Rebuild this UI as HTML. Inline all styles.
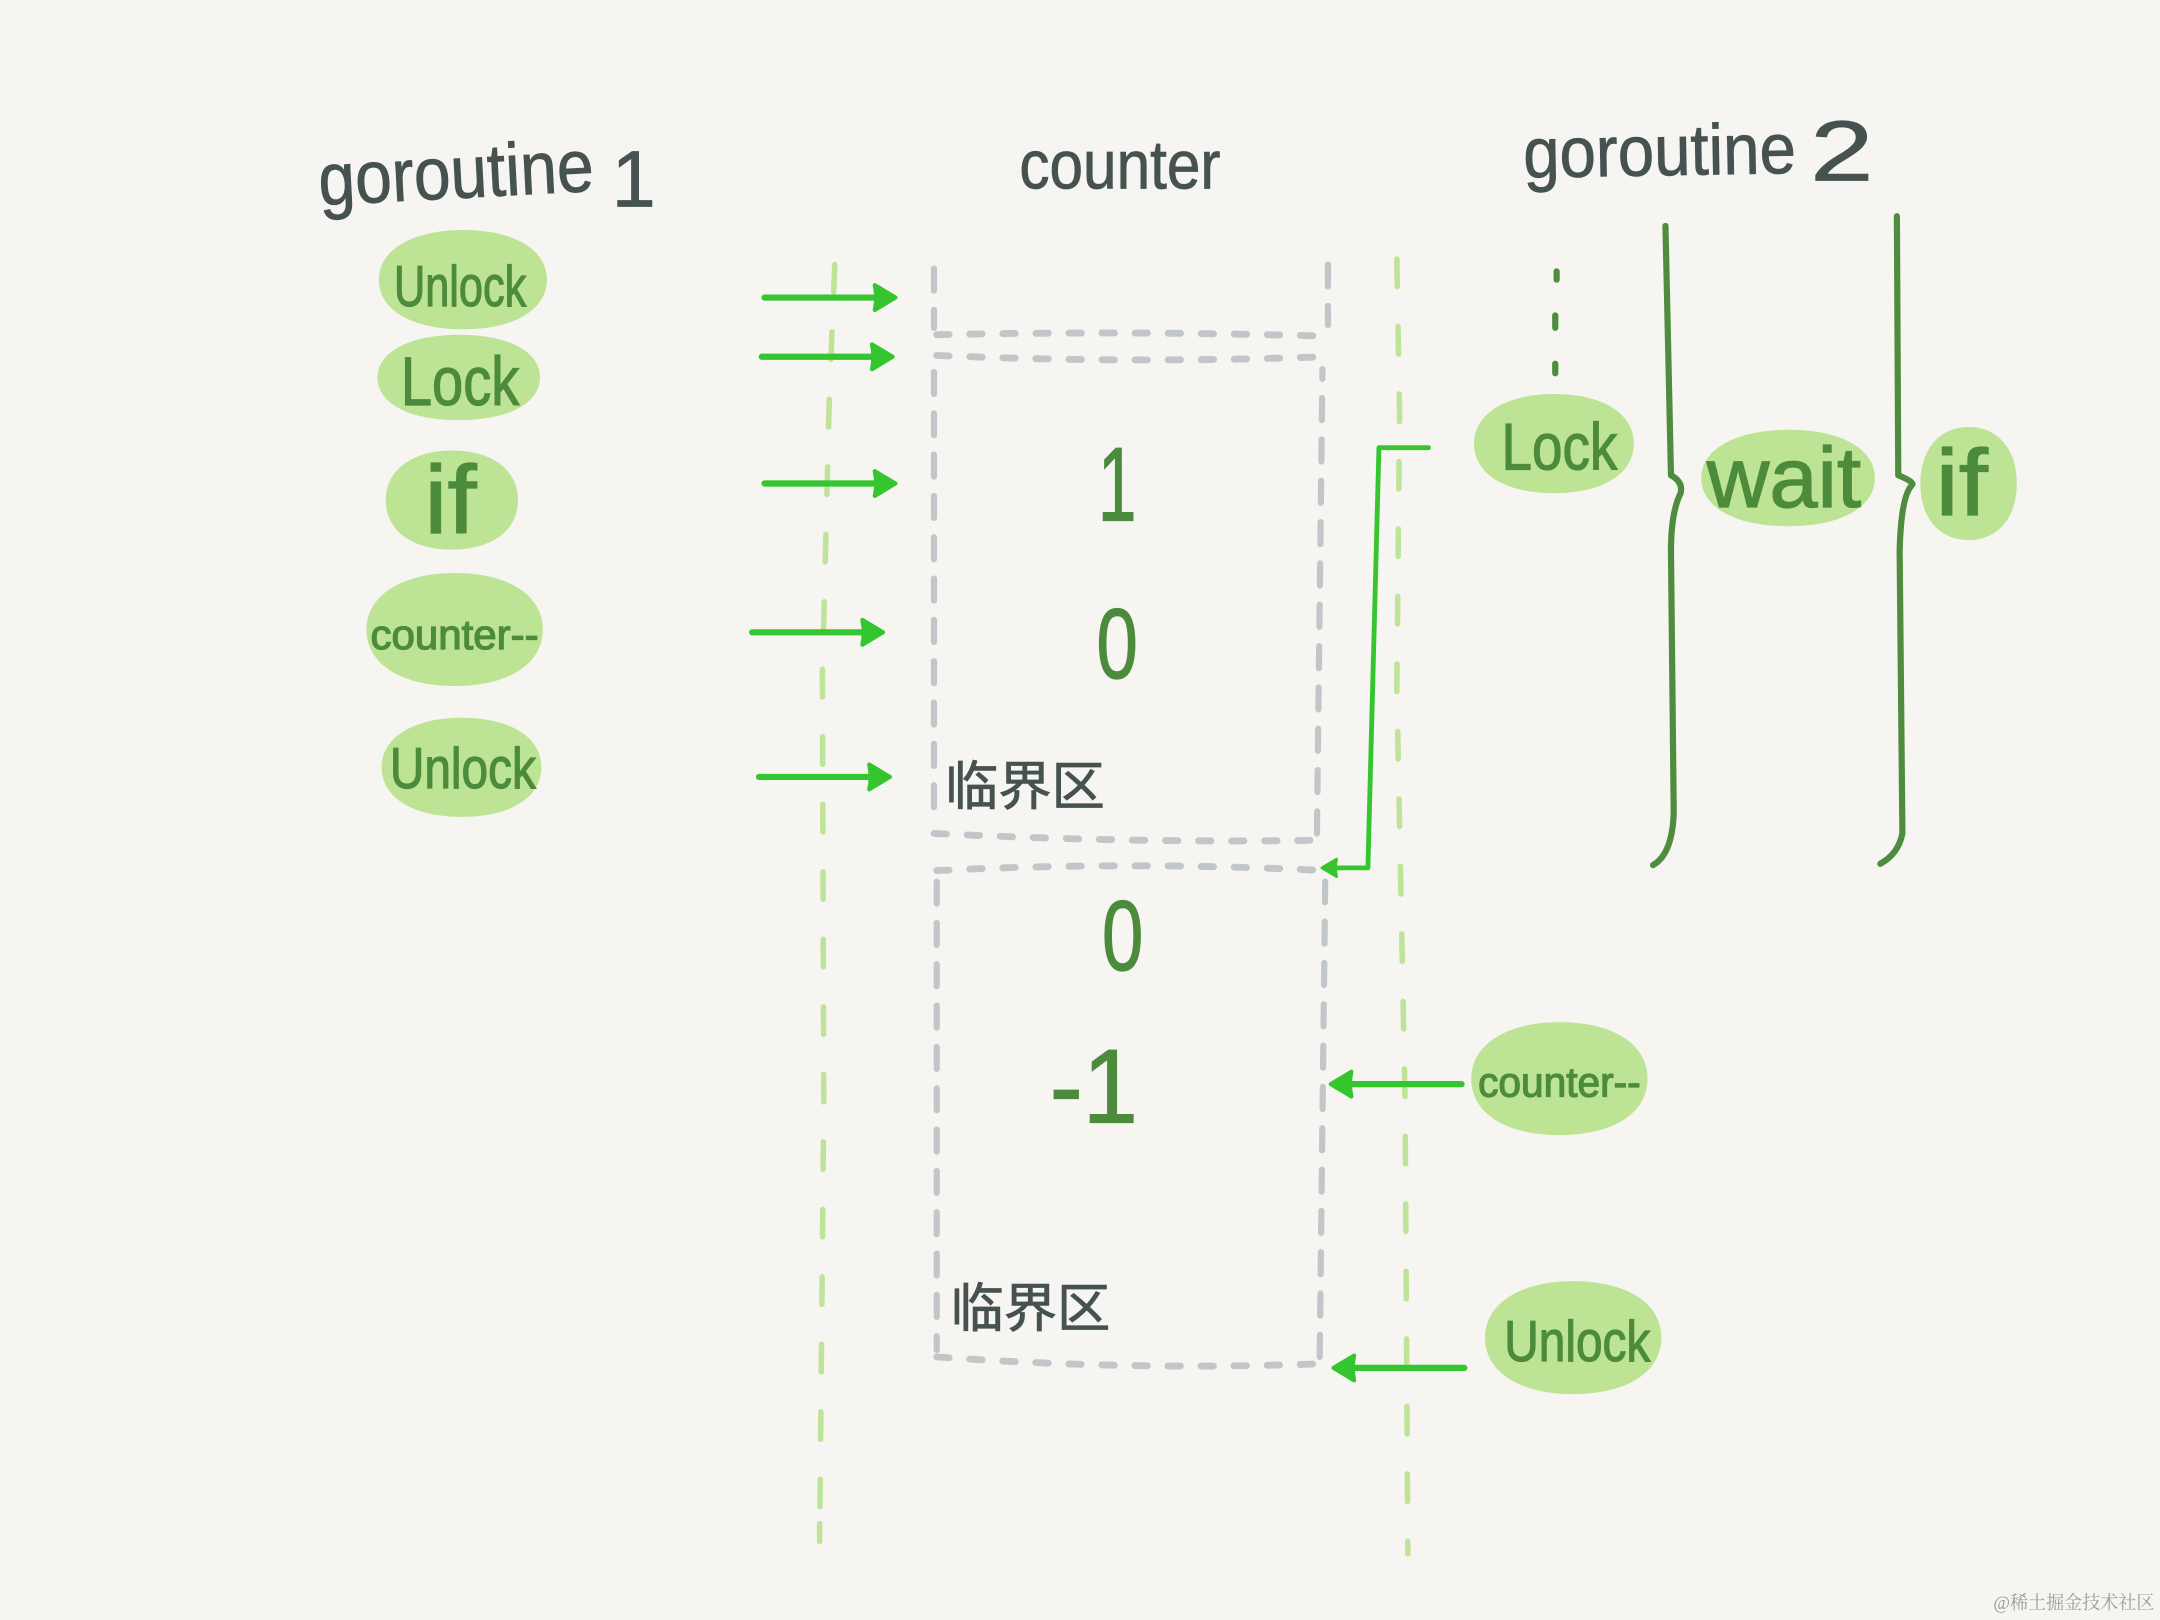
<!DOCTYPE html>
<html><head><meta charset="utf-8"><style>
html,body{margin:0;padding:0;background:#f6f5f1}
svg{display:block;position:absolute;left:0;top:0}
text{font-family:"Liberation Sans","Noto Sans CJK SC",sans-serif}
.h{fill:#465250;stroke:#465250;stroke-width:.6}
.g{fill:#4d8b3c;stroke:#4d8b3c;stroke-width:.9}
.gd{fill:none;stroke:#bfe398;stroke-width:4;stroke-linecap:round;stroke-dasharray:20 29}
.gr{fill:none;stroke:#c3c6c9;stroke-width:4.5;stroke-linecap:round;stroke-dasharray:16 14}
.grh{fill:none;stroke:#c3c6c9;stroke-width:5;stroke-linecap:round;stroke-dasharray:9 15}
.a{fill:none;stroke:#35c52f;stroke-width:4.5;stroke-linecap:round;stroke-linejoin:round}
.b{fill:none;stroke:#4f8c3f;stroke-width:4.5;stroke-linecap:round;stroke-linejoin:round}
</style></head><body>
<svg width="2160" height="1620" viewBox="0 0 1568 1176" xmlns="http://www.w3.org/2000/svg">
<defs>
<path id="ah" d="M-16 -9 L-1 0 L-16 9 Q-14 0 -16 -9Z" fill="#35c52f" stroke="#35c52f" stroke-width="3" stroke-linejoin="round"/>
<path id="bl" d="M-1 0 C-1 -.62 -.58 -1 0 -1 C.62 -1 1 -.6 1 0 C1 .62 .6 1 0 1 C-.62 1 -1 .6 -1 0Z"/>
</defs>
<rect width="1568" height="1176" fill="#f6f5f1"/>
<path class="gd" d="M606 192 L602 290 L597 490 L598 800 L595 1120"/>
<path class="gd" style="stroke-dasharray:none" d="M595 1106 V1119"/>
<path class="gd" d="M1014 188 L1016 300 L1014 500 L1020 800 L1022 1128"/>
<path class="gr" d="M678 195 V238 M964 192 V236"/>
<path class="grh" d="M680 243 Q820 240 962 244 M680 258 Q820 264 960 259"/>
<path class="gr" d="M678 270 L678 600 M956 605 L960 268"/>
<path class="grh" d="M678 605 Q820 612 954 610"/>
<path class="grh" d="M680 632 Q820 625 962 632"/>
<path class="gr" d="M680 640 V980 M958 985 L962 640"/>
<path class="grh" d="M680 985 Q820 995 958 990"/>
<g fill="#bde394">
<use href="#bl" transform="translate(336,203) scale(61,36)"/>
<use href="#bl" transform="translate(333,274) scale(59,31)"/>
<use href="#bl" transform="translate(328,363) scale(48,36)"/>
<use href="#bl" transform="translate(330,457) scale(64,41)"/>
<use href="#bl" transform="translate(335,557) scale(58,36)"/>
<use href="#bl" transform="translate(1128,322) scale(58,36)"/>
<use href="#bl" transform="translate(1298,347) scale(63,35)"/>
<use href="#bl" transform="translate(1429,351) scale(35,41)"/>
<use href="#bl" transform="translate(1132,783) scale(64,41)"/>
<use href="#bl" transform="translate(1142,971) scale(64,41)"/>
</g>
<g class="a">
<path d="M555 216 H640"/><path d="M553 259 H638"/><path d="M555 351 H640"/><path d="M546 459 H631"/><path d="M551 564 H636"/>
<path d="M1061 787 H976"/><path d="M1063 993 H978"/>
<path d="M1037 325 H1001 L993 630 H966" stroke-width="3.5"/>
</g>
<use href="#ah" transform="translate(651,216)"/><use href="#ah" transform="translate(649,259)"/><use href="#ah" transform="translate(651,351)"/><use href="#ah" transform="translate(642,459)"/><use href="#ah" transform="translate(647,564)"/>
<use href="#ah" transform="translate(965,787) rotate(180)"/><use href="#ah" transform="translate(967,993) rotate(180)"/><use href="#ah" transform="translate(959,630) rotate(180) scale(.7)"/>
<path class="b" d="M1209 164 L1213 345 Q1222 350 1220 358 Q1213 372 1213 400 L1215 590 Q1214 620 1200 628"/>
<path class="b" d="M1377 157 L1378 345 Q1390 350 1388 352 Q1380 360 1379 400 L1381 605 Q1378 620 1365 627"/>
<path class="b" d="M1130 197 V203 M1129 229 V238 M1129 264 V271"/>
<text class="h" x="232" y="149" font-size="54" textLength="200" lengthAdjust="spacingAndGlyphs" transform="rotate(-3 232 149)">goroutine</text>
<text class="h" x="444" y="150" font-size="58" textLength="32" lengthAdjust="spacingAndGlyphs">1</text>
<text class="h" x="740" y="137" font-size="50" textLength="146" lengthAdjust="spacingAndGlyphs">counter</text>
<text class="h" x="1106" y="129" font-size="52" textLength="198" lengthAdjust="spacingAndGlyphs" transform="rotate(-1 1106 129)">goroutine</text>
<text class="h" x="1314" y="131" font-size="62" textLength="46" lengthAdjust="spacingAndGlyphs">2</text>
<text class="g" x="286" y="222" font-size="42" textLength="96" lengthAdjust="spacingAndGlyphs">Unlock</text>
<text class="g" x="291" y="294" font-size="50" textLength="86" lengthAdjust="spacingAndGlyphs">Lock</text>
<text class="g" x="308" y="387" font-size="70" textLength="38" lengthAdjust="spacingAndGlyphs">if</text>
<text class="g" x="269" y="471" font-size="30" textLength="122" lengthAdjust="spacingAndGlyphs">counter--</text>
<text class="g" x="283" y="572" font-size="42" textLength="106" lengthAdjust="spacingAndGlyphs">Unlock</text>
<text class="g" x="1090" y="341" font-size="48" textLength="84" lengthAdjust="spacingAndGlyphs">Lock</text>
<text class="g" x="1239" y="368" font-size="62" textLength="112" lengthAdjust="spacingAndGlyphs">wait</text>
<text class="g" x="1405" y="374" font-size="68" textLength="38" lengthAdjust="spacingAndGlyphs">if</text>
<text class="g" x="1073" y="796" font-size="30" textLength="118" lengthAdjust="spacingAndGlyphs">counter--</text>
<text class="g" x="1092" y="988" font-size="42" textLength="106" lengthAdjust="spacingAndGlyphs">Unlock</text>
<text class="g" x="797" y="378" font-size="76" textLength="28" lengthAdjust="spacingAndGlyphs">1</text>
<text class="g" x="796" y="492" font-size="72" textLength="30" lengthAdjust="spacingAndGlyphs">0</text>
<text class="g" x="800" y="704" font-size="72" textLength="30" lengthAdjust="spacingAndGlyphs">0</text>
<text class="g" x="762" y="815" font-size="76" textLength="64" lengthAdjust="spacingAndGlyphs">-1</text>
<text class="h" x="686" y="584" font-size="38" textLength="116" lengthAdjust="spacingAndGlyphs">临界区</text>
<text class="h" x="690" y="963" font-size="38" textLength="116" lengthAdjust="spacingAndGlyphs">临界区</text>
<text x="1447" y="1168" font-size="13.5" fill="#9d9d9b" textLength="117" lengthAdjust="spacingAndGlyphs" style='font-family:"Liberation Serif","Noto Serif CJK SC",serif'>@稀土掘金技术社区</text>
</svg>
</body></html>
